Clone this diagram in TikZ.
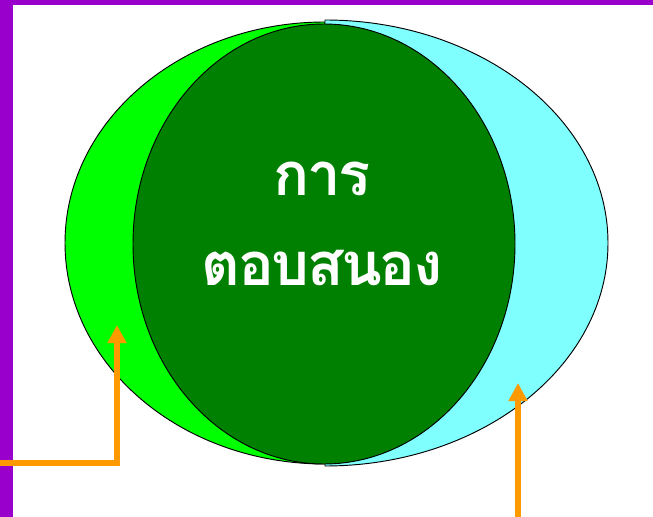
\documentclass[tikz,border=0pt]{standalone}
\usepackage{fontspec}
\newfontfamily\thaifont[Script=Thai,LetterSpace=-4]{Loma}
\usetikzlibrary{arrows.meta,positioning}
\definecolor{framepurple}{HTML}{9900CC}
\definecolor{litegreen}{HTML}{00FF00}
\definecolor{deepgreen}{HTML}{008000}
\definecolor{paleaqua}{HTML}{80FFFF}
\definecolor{pointerorange}{HTML}{FF9900}

\begin{document}
\begin{tikzpicture}[x=0.03cm,y=-0.03cm,>={Triangle[width=5.4mm,length=5.4mm]},
 pointer/.style={draw=pointerorange,line width=5pt,->,color=pointerorange},
 zone/.style={draw=black,line width=0.8pt},
 word/.style={text=white,font=\thaifont\bfseries\fontsize{51}{57}\selectfont}]
\useasboundingbox (0,0) rectangle (653,517);
% frame
\fill[framepurple] (0,0) rectangle (653,5);
\fill[framepurple] (0,0) rectangle (13,517);
% outer halves and inner ellipse
\filldraw[zone,fill=litegreen] (325,22) arc[start angle=270,end angle=90,x radius=260,y radius=221] -- cycle;
\filldraw[zone,fill=paleaqua] (325,20) arc[start angle=270,end angle=450,x radius=283,y radius=223] -- cycle;
\filldraw[zone,fill=deepgreen] (324,244) ellipse[x radius=191,y radius=220];
\node[word] (first) at (322,179) {การ};
\node[word] (second) at (322,268) {ตอบสนอง};
% pointers
\coordinate (leftfoot) at (0,463);
\coordinate (leftbend) at (117,463);
\coordinate (lefttip) at (117,325);
\coordinate (rightfoot) at (518,517);
\coordinate (righttip) at (518,383);
\draw[pointer] (leftfoot) -- (leftbend) -- (lefttip);
\draw[pointer] (rightfoot) -- (righttip);
\end{tikzpicture}
\end{document}
